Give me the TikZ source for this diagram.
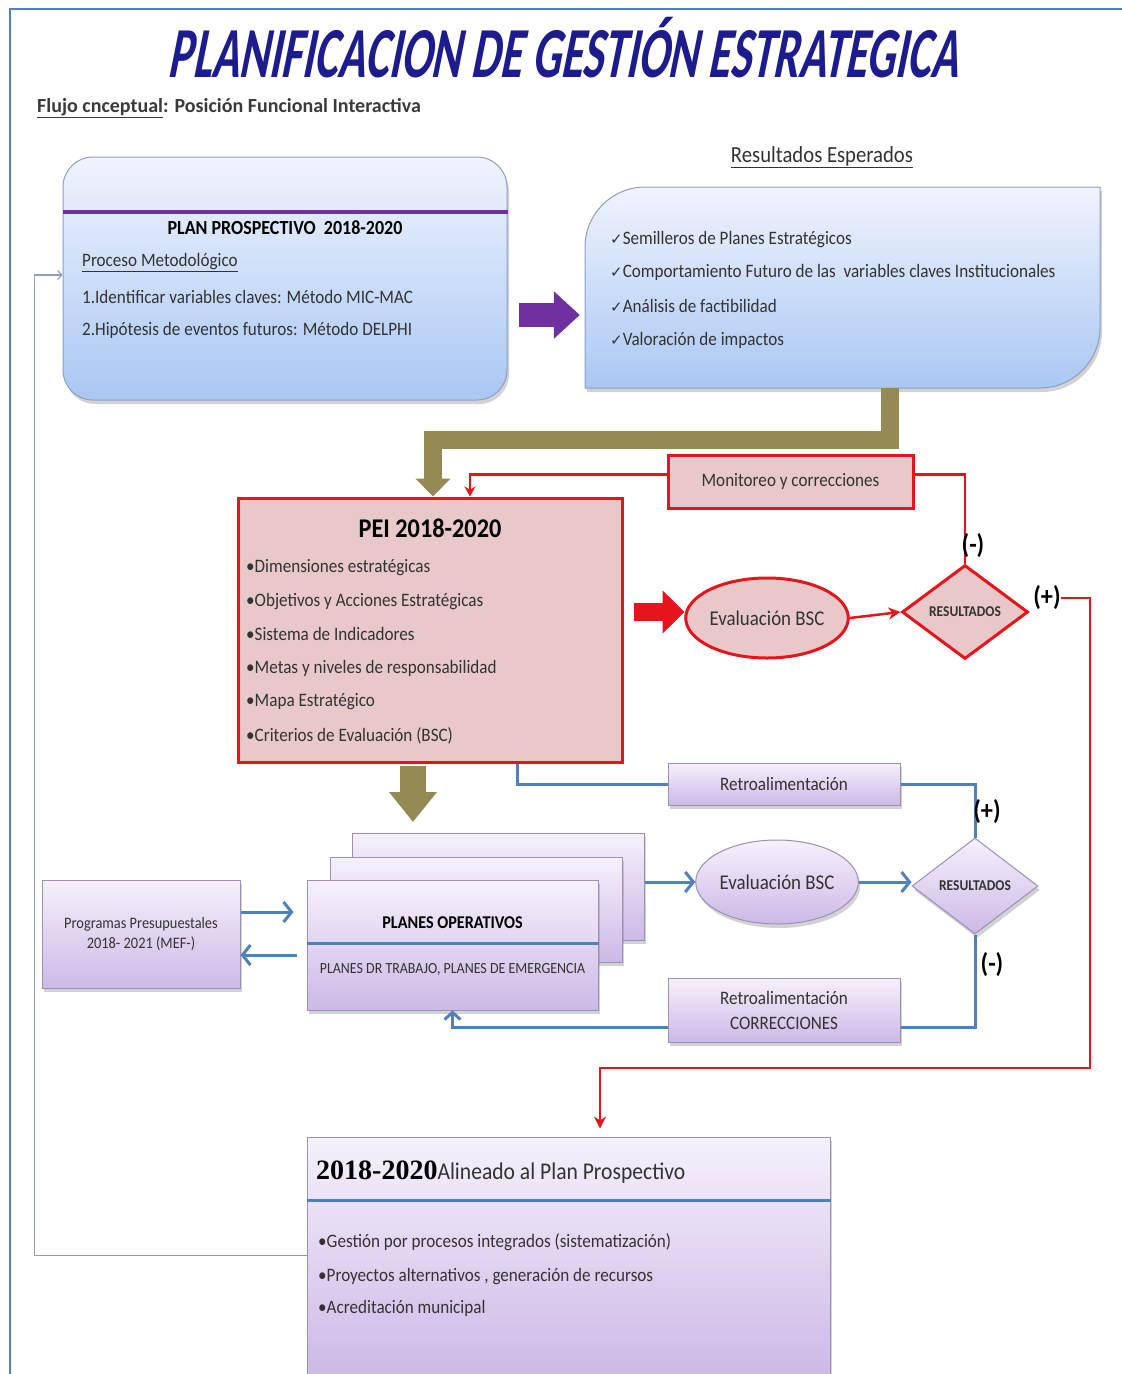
\documentclass[tikz,border=0pt]{standalone}
\usepackage{fontspec}
\usepackage{graphicx}
\setmainfont[FakeStretch=0.9]{Carlito}
\newfontfamily\symfont{DejaVu Sans}
\newfontfamily\subfont{Carlito}
\newfontfamily\titlefont[FakeStretch=0.63, FakeSlant=0.2]{Carlito}
\newfontfamily\serifb{Liberation Serif}
\usetikzlibrary{shapes.geometric,arrows.meta,shadows,calc}
\newcommand\fsz[1]{\fontsize{#1}{#1}\selectfont}
\definecolor{navy}{HTML}{1C1C8F}
\definecolor{subgray}{HTML}{3A3A3A}
\definecolor{txtgray}{HTML}{333333}
\definecolor{framebl}{HTML}{4F81BD}
\definecolor{bluetop}{HTML}{F0F4FE}
\definecolor{bluebot}{HTML}{A9C7F3}
\definecolor{bluebd}{HTML}{8AA0C8}
\definecolor{purp}{HTML}{7030A0}
\definecolor{oliv}{HTML}{948A54}
\definecolor{myred}{HTML}{E8141C}
\definecolor{pinkf}{HTML}{E8C8C8}
\definecolor{lnblue}{HTML}{4F81BD}
\definecolor{lavtop}{HTML}{F6F1FC}
\definecolor{lavbot}{HTML}{CCB9E6}
\definecolor{lavbd}{HTML}{9D8FB5}
\definecolor{grayln}{HTML}{8C9BBF}
\tikzset{
  bluebox/.style={draw=bluebd, line width=1pt, top color=bluetop, bottom color=bluebot,
    drop shadow={opacity=0.35, shadow xshift=2pt, shadow yshift=-4pt}, inner sep=0pt},
  lavbox/.style={draw=lavbd, line width=1pt, top color=lavtop, bottom color=lavbot,
    drop shadow={opacity=0.35, shadow xshift=2pt, shadow yshift=-4pt}, inner sep=0pt},
  pinkbox/.style={draw=myred, line width=3pt, fill=pinkf, inner sep=0pt},
  redln/.style={draw=myred, line width=2.5pt},
  blueln/.style={draw=lnblue, line width=3pt},
  grayconn/.style={draw=grayln, line width=1.2pt},
  txt/.style={inner sep=0pt, font=\fsz{19}, text=txtgray, anchor=west},
  lbl/.style={inner sep=0pt, font=\fsz{27}\bfseries, text=black},
  bluetip/.style={-{Straight Barb[length=8pt,width=20pt]}},
}
\begin{document}
\begin{tikzpicture}[x=1pt,y=-1pt]
\useasboundingbox (0,0) rectangle (1122,1374);
\fill[white] (0,0) rectangle (1122,1374);
% frame
\draw[framebl, line width=2pt] (10,1374) -- (10,9) -- (1122,9);

% title
\node[inner sep=0pt] (title) at (563,48) {\resizebox{790pt}{!}{\color{navy}\titlefont\bfseries PLANIFICACION DE GESTIÓN ESTRATEGICA}};
\node[inner sep=0pt, anchor=west, text=subgray] (sub) at (37,108) {\subfont\fsz{20}\bfseries\underline{Flujo cnceptual}: Posición Funcional Interactiva};

% Plan prospectivo box
\node[bluebox, rounded corners=30pt, minimum width=444pt, minimum height=243pt] (pp) at (285,278.5) {};
\draw[purp, line width=4pt] (pp.west |- 0,212) -- (pp.east |- 0,212);
\node[inner sep=0pt, text=black] (ppt) at (285,228) {\fsz{20}\bfseries PLAN PROSPECTIVO\ \ 2018-2020};
\node[txt] (pp1) at (82,263) {\underline{Proceso Metodológico}};
\node[txt] (pp2t) at (82,297) {1.Identificar variables claves: Método MIC-MAC};
\node[txt] (pp3) at (82,330) {2.Hipótesis de eventos futuros: Método DELPHI};

% Resultados esperados box
\node[inner sep=0pt, text=txtgray] (reslbl) at (822,157) {\fsz{23}\underline{Resultados Esperados}};
\path[top color=bluetop, bottom color=bluebot, draw=bluebd, line width=1pt,
  drop shadow={opacity=0.35, shadow xshift=2pt, shadow yshift=-4pt}]
  (645,187) -- (1100,187) -- (1100,328) .. controls (1100,361) and (1073,388) .. (1040,388)
  -- (585,388) -- (585,247) .. controls (585,214) and (612,187) .. (645,187) -- cycle;
\node[minimum width=515pt, minimum height=201pt, inner sep=0pt] (res) at (842.5,287.5) {};
\node[txt] (r1t) at (610,240) {{\symfont\fsz{15}✓}Semilleros de Planes Estratégicos};
\node[txt] (r2t) at (610,272) {{\symfont\fsz{15}✓}Comportamiento Futuro de las\ \ variables claves Institucionales};
\node[txt] (r3t) at (610,306) {{\symfont\fsz{15}✓}Análisis de factibilidad};
\node[txt] (r4t) at (610,340) {{\symfont\fsz{15}✓}Valoración de impactos};

% purple block arrow
\draw[purp, line width=24pt, -{Triangle[width=46pt,length=26pt]}] ($(pp.east)+(11,36.5)$) -- ($(res.west)+(-5,27.5)$);

% PEI
\node[pinkbox, minimum width=384pt, minimum height=264pt] (pei) at (430,630) {};
\node[inner sep=0pt, text=black] (peit) at (430,528) {\fsz{27}\bfseries PEI 2018-2020};
\node[txt] (pe1) at (246,568) {•Dimensiones estratégicas};
\node[txt] (pe2) at (246,602) {•Objetivos y Acciones Estratégicas};
\node[txt] (pe3) at (246,634) {•Sistema de Indicadores};
\node[txt] (pe4) at (246,668) {•Metas y niveles de responsabilidad};
\node[txt] (pe5) at (246,702) {•Mapa Estratégico};
\node[txt] (pe6) at (246,736) {•Criterios de Evaluación (BSC)};

% olive connector
\draw[oliv, line width=18pt, -{Triangle[width=34pt,length=18pt]}] ($(res.south)+(47.5,0)$) -- ++(0,52) -| ($(pei.north)+(3,0)$);

% Monitoreo
\node[pinkbox, minimum width=245pt, minimum height=53pt, font=\fsz{19}, text=txtgray] (mon) at (790.5,481.5) {Monitoreo y correcciones};
\draw[redln, -{Stealth[length=10pt,width=11pt]}] ($(mon.west)+(0,-7)$) -| ($(pei.north)+(40,0)$);

% red evaluation
\draw[myred, line width=18pt, -{Triangle[width=42pt,length=22pt]}] ($(pei.east)+(10,-18)$) -- ($(pei.east)+(61,-18)$);
\node[ellipse, pinkbox, minimum width=128pt, minimum height=80pt, font=\fsz{21}, text=txtgray] (ev1) at (767,618) {Evaluación BSC};
\node[diamond, pinkbox, minimum width=126pt, minimum height=94pt, font=\fsz{15}\bfseries, text=txtgray] (res1) at (965,612) {RESULTADOS};
\draw[redln, -{Stealth[length=12pt,width=12pt]}] (ev1.east) -- (res1.west);
\draw[redln] (res1.north) |- ($(mon.east)+(0,-7)$);
\node[lbl] (minus1) at (973,546) {(-)};
\node[lbl] (plus1) at (1047,598) {(+)};

% olive down arrow
\draw[oliv, line width=26pt, -{Triangle[width=46pt,length=30pt]}] ($(pei.south)+(-17,2)$) -- (413,822);

% operative plans stack
\node[lavbox, minimum width=292pt, minimum height=107pt] (po3) at (498,886.5) {};
\node[lavbox, minimum width=292pt, minimum height=105pt] (po2) at (476,909.5) {};
\node[lavbox, minimum width=291pt, minimum height=130pt] (po1) at (452.5,945) {};
\draw[lnblue, line width=3pt] (po1.west |- 0,943) -- (po1.east |- 0,943);
\node[inner sep=0pt, text=black] (pot) at (452.5,923) {\fsz{18}\bfseries PLANES OPERATIVOS};
\node[inner sep=0pt, text=txtgray] (pos) at (452.5,969) {\fsz{15.5}PLANES DR TRABAJO, PLANES DE EMERGENCIA};

% Programas presupuestales
\node[lavbox, minimum width=198pt, minimum height=108pt, align=center, font=\fsz{16}, text=txtgray] (prog) at (141,934) {Programas Presupuestales\\[4pt]2018- 2021 (MEF-)};
\draw[blueln, bluetip] ($(prog.east)+(0,-22)$) -- ($(prog.east)+(53,-22)$);
\draw[blueln, bluetip] ($(po1.west)+(-10,10)$) -- ($(prog.east)+(0,21)$);

% blue evaluation
\node[ellipse, lavbox, minimum width=124pt, minimum height=84pt, font=\fsz{21}, text=txtgray] (ev2) at (777,882) {Evaluación BSC};
\node[diamond, lavbox, minimum width=126pt, minimum height=96pt, font=\fsz{15}\bfseries, text=txtgray] (res2) at (975,886) {RESULTADOS};
\draw[blueln, bluetip] (po3.east |- ev2.west) -- (ev2.west);
\draw[blueln, bluetip] (ev2.east) -- (res2.west |- ev2.east);

% retroalimentacion boxes
\node[lavbox, minimum width=232pt, minimum height=42pt, font=\fsz{19}, text=txtgray] (rt1) at (784,784) {Retroalimentación};
\node[lavbox, minimum width=232pt, minimum height=64pt, font=\fsz{19}, text=txtgray, align=center] (rt2) at (784,1010) {Retroalimentación\\[6pt]CORRECCIONES};
\draw[blueln] ($(pei.south)+(87,0)$) |- (rt1.west);
\draw[blueln] (rt1.east) -| (res2.north);
\draw[blueln] (res2.south) |- ($(rt2.east)+(0,17)$);
\draw[blueln, -{Straight Barb[length=7pt,width=16pt]}] ($(rt2.west)+(0,17)$) -| (po1.south);
\node[lbl] (plus2) at (987,812) {(+)};
\node[lbl] (minus2) at (992,965) {(-)};

% Alineado box
\node[lavbox, minimum width=523pt, minimum height=237pt] (al) at (568.5,1255.5) {};
\draw[lnblue, line width=3pt] (al.west |- 0,1200) -- (al.east |- 0,1200);
\node[inner sep=0pt, anchor=west, text=txtgray] (alt) at (316,1172) {{\serifb\bfseries\fsz{28}\color{black}2018-2020}{\fsz{24}Alineado al Plan Prospectivo}};
\node[txt] (al1) at (318,1242) {•Gestión por procesos integrados (sistematización)};
\node[txt] (al2) at (318,1277) {•Proyectos alternativos , generación de recursos};
\node[txt] (al3) at (318,1308) {•Acreditación municipal};

% red (+) connector to Alineado
\draw[redln, shorten >=8pt, -{Stealth[length=12pt,width=12pt]}] (plus1.east) -| (1090,1068) -| ($(al.north)+(31.5,0)$);

% gray feedback connector
\draw[grayconn, -{Straight Barb[length=4pt,width=9pt]}] (al.west) -| ($(pp.west)+(-28,-3.5)$) -- ($(pp.west)+(0,-3.5)$);
\end{tikzpicture}
\end{document}
